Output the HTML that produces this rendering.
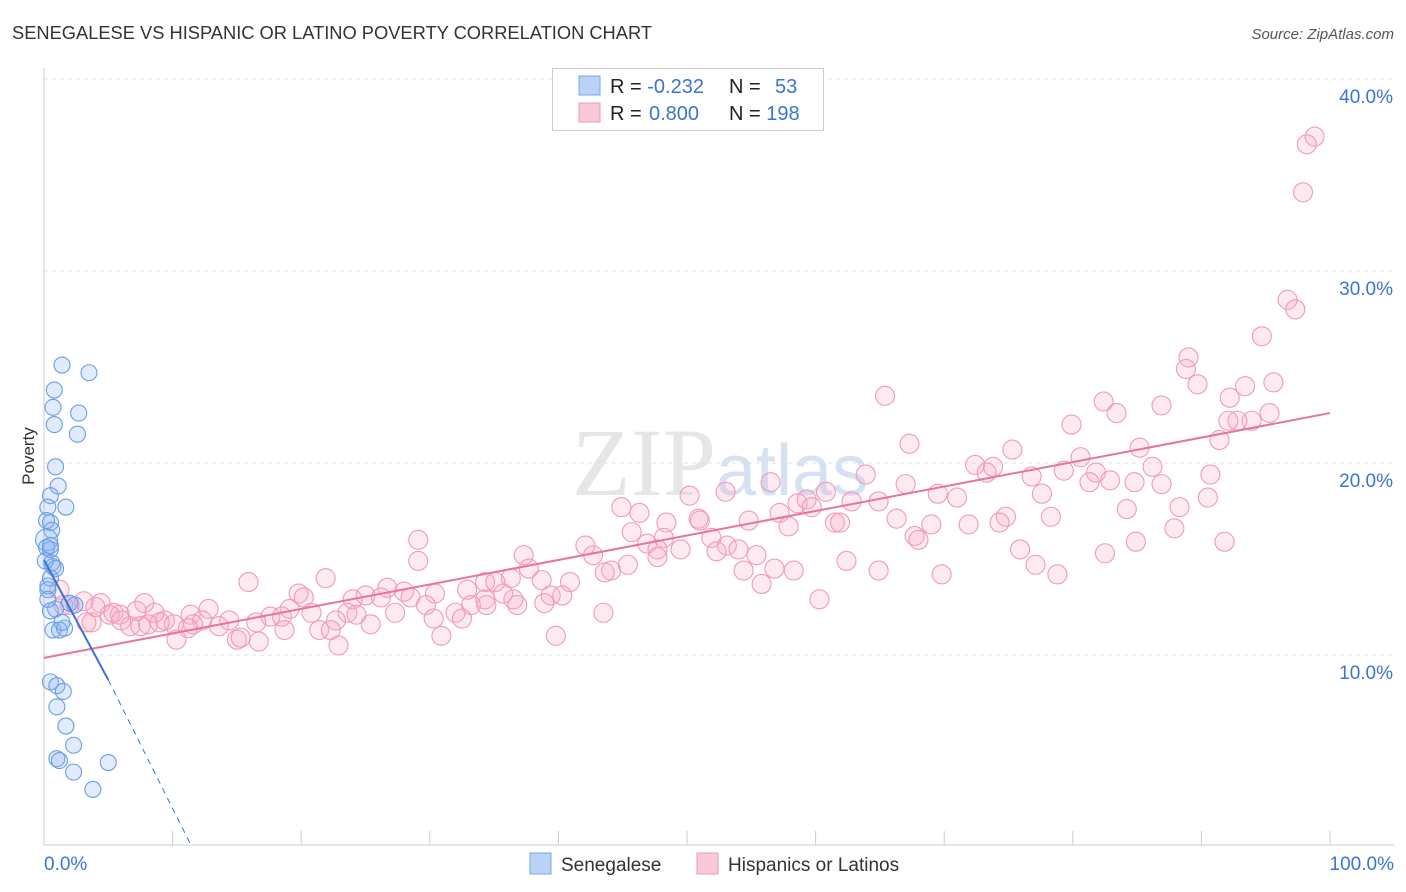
<!DOCTYPE html>
<html><head><meta charset="utf-8">
<style>
body{margin:0;background:#fff;font-family:"Liberation Sans",sans-serif;}
svg{display:block}
</style></head>
<body>
<svg id="chart" width="1406" height="892">
<text x="12" y="39" font-size="18.3" fill="#333">SENEGALESE VS HISPANIC OR LATINO POVERTY CORRELATION CHART</text>
<text x="1394" y="39" font-size="15" fill="#555" text-anchor="end" font-style="italic">Source: ZipAtlas.com</text>
<text x="34" y="456" font-size="17" fill="#333" transform="rotate(-90 34 456)" text-anchor="middle">Poverty</text>
<text x="720" y="495" font-size="96" fill="#e6e6e6" text-anchor="middle" font-family="Liberation Serif,serif">ZIP<tspan fill="#d5e2f3" font-family="Liberation Sans,sans-serif" font-size="72">atlas</tspan></text>
<g id="grid"></g><g id="axes"></g><g id="pink"></g><g id="blue"></g><g id="trend"></g>
<g>
<rect x="552.5" y="68.5" width="271" height="62" fill="#fff" stroke="#ccc"/>
<rect x="579" y="76" width="21" height="19" fill="#b9d3f5" stroke="#7aa7e6"/>
<rect x="579" y="103" width="21" height="19" fill="#f9c9d8" stroke="#ec9ab5"/>
<text x="610" y="93" font-size="20" fill="#222">R = <tspan fill="#3b73d6">-0.232</tspan></text>
<text x="729" y="93" font-size="20" fill="#222">N = <tspan fill="#3b73d6" x="775">53</tspan></text>
<text x="610" y="120" font-size="20" fill="#222">R = <tspan fill="#3b73d6" x="649">0.800</tspan></text>
<text x="729" y="120" font-size="20" fill="#222">N = <tspan fill="#3b73d6">198</tspan></text>
</g>
<g>
<rect x="530" y="853" width="21" height="21" fill="#b9d3f5" stroke="#7aa7e6"/>
<text x="561" y="871" font-size="19" fill="#333">Senegalese</text>
<rect x="697" y="853" width="21" height="21" fill="#f9c9d8" stroke="#ec9ab5"/>
<text x="728" y="871" font-size="19" fill="#333">Hispanics or Latinos</text>
</g>
</svg>
<script>
const yTicks=[10,20,30,40];
const yTickLabels=["10.0%","20.0%","30.0%","40.0%"];
const xTickLabels=["0.0%","100.0%"];
const pinkX=[98.8,98.2,97.9,96.7,97.3,94.7,89.0,88.8,89.7,95.6,93.4,92.2,86.9,82.4,83.4,65.4,95.3,93.9,92.8,92.1,79.9,67.3,91.4,85.2,75.3,80.6,72.4,73.8,86.2,79.3,81.8,90.7,76.8,82.9,73.3,84.8,86.9,63.9,56.5,81.3,67.0,77.6,90.5,50.2,53.0,60.8,69.5,71.0,58.6,59.3,64.9,62.8,88.3,84.2,44.9,46.3,59.7,78.3,50.9,48.4,57.2,66.3,51.0,54.8,71.9,57.9,61.5,61.9,74.8,74.3,69.0,87.9,45.7,51.9,48.2,42.1,46.9,67.7,68.0,84.9,91.8,29.1,53.1,47.7,54.0,49.5,75.9,82.5,37.3,52.3,42.7,55.4,62.4,47.7,56.8,37.7,77.1,64.9,29.1,44.1,45.4,54.4,43.6,58.3,78.8,69.8,15.9,21.9,34.3,36.3,35.1,38.7,40.9,55.8,26.7,19.8,20.2,28.0,25.0,26.2,30.4,32.9,35.7,60.3,39.4,36.5,28.5,34.3,24.0,40.3,12.8,19.1,33.2,38.9,29.7,34.4,36.8,43.5,23.6,27.3,24.3,20.8,17.6,18.5,32.0,32.5,30.3,14.4,9.4,11.4,12.3,16.5,7.8,3.1,4.4,5.4,5.9,7.2,8.6,3.7,10.1,11.6,13.6,22.7,25.4,3.3,6.7,7.5,11.2,10.3,15.0,16.7,18.7,21.4,22.3,30.9,39.8,15.3,22.9,1.2,1.5,2.0,4.0,5.1,6.0,8.1,9.0];
const pinkY=[37.0,36.6,34.1,28.5,28.0,26.6,25.5,24.9,24.1,24.2,24.0,23.4,23.0,23.2,22.6,23.5,22.6,22.2,22.2,22.2,22.0,21.0,21.2,20.8,20.7,20.3,19.9,19.8,19.8,19.6,19.5,19.4,19.3,19.1,19.5,19.0,18.9,19.4,19.0,19.0,18.9,18.4,18.2,18.3,18.5,18.5,18.4,18.2,17.9,18.1,18.0,18.0,17.7,17.6,17.7,17.4,17.7,17.2,17.1,16.9,17.4,17.1,17.0,17.0,16.8,16.7,16.9,16.9,17.2,16.9,16.8,16.6,16.4,16.1,16.1,15.7,15.8,16.2,16.0,15.9,15.9,16.0,15.7,15.5,15.5,15.5,15.5,15.3,15.2,15.4,15.2,15.2,14.9,15.1,14.5,14.5,14.7,14.4,14.9,14.4,14.7,14.4,14.3,14.4,14.2,14.2,13.8,14.0,13.8,14.0,13.8,13.9,13.8,13.7,13.5,13.2,13.0,13.3,13.1,13.0,13.2,13.4,13.2,12.9,13.1,12.9,13.0,12.9,12.9,13.1,12.4,12.4,12.6,12.7,12.6,12.6,12.6,12.2,12.2,12.2,12.1,12.2,12.0,12.0,12.2,11.9,11.9,11.8,11.8,12.1,11.8,11.7,12.7,12.8,12.7,12.2,12.1,12.3,12.2,11.7,11.6,11.6,11.5,11.8,11.6,11.7,11.5,11.5,11.4,10.8,10.8,10.7,11.3,11.3,11.3,11.0,11.0,10.9,10.5,13.4,12.6,12.6,12.5,12.1,11.8,11.6,11.7];
const blueX=[1.4,3.5,0.8,0.7,2.7,0.8,2.6,0.9,1.1,0.5,0.3,1.7,0.5,0.6,0.2,0.5,0.6,0.7,0.5,0.3,0.9,0.5,0.9,0.7,1.2,1.6,1.4,0.3,0.2,0.1,0.2,0.5,0.3,2.0,2.4,0.5,1.0,1.5,1.0,1.7,2.3,1.0,2.3,5.0,3.8,1.2];
const blueY=[25.1,24.7,23.8,22.9,22.6,22.0,21.5,19.8,18.8,18.3,17.7,17.7,16.9,16.5,16.0,15.5,14.8,14.6,14.0,13.4,14.5,12.3,12.4,11.3,11.3,11.4,11.7,13.6,15.6,14.9,17.0,15.7,12.9,12.7,12.6,8.6,8.4,8.1,7.3,6.3,5.3,4.6,3.9,4.4,3.0,4.5];
const pinkTrend=[9.85,22.6];
const blueTrend=[14.95,8.7,0];

const NS="http://www.w3.org/2000/svg";
const X0=44,X1=1330,YB=847,PY=19.2;
const xs=v=>X0+v*(X1-X0)/100;
const ys=v=>YB-v*PY;
function mk(tag,attrs,parent){const e=document.createElementNS(NS,tag);for(const k in attrs)e.setAttribute(k,attrs[k]);document.getElementById(parent).appendChild(e);return e;}
yTicks.forEach((t,i)=>{
  const l=mk('line',{x1:X0,x2:1394,y1:ys(t),y2:ys(t),stroke:'#e0e0e0','stroke-dasharray':'4 4'},'grid');
  
  
  const tx=mk('text',{x:1393,y:ys(t)+24,'font-size':19,fill:'#3b73d6','text-anchor':'end'},'grid');
  tx.textContent=yTickLabels[i];
  
  
});
const ax=mk('line',{x1:X0,x2:X0,y1:68,y2:YB-2,stroke:'#ccc'},'axes');


const bx=mk('line',{x1:X0,x2:1394,y1:845,y2:845,stroke:'#ccc'},'axes');


for(let i=1;i<=10;i++){
  const t=mk('line',{x1:xs(i*10),x2:xs(i*10),y1:831,y2:845,stroke:'#ccc'},'axes');
  
  
}
[[0,'start',44],[100,'end',1394]].forEach((p,i)=>{
  const t=mk('text',{x:p[2],y:870,'font-size':19,fill:'#3b73d6','text-anchor':p[1]},'axes');
  t.textContent=xTickLabels[i];
  
  
});
pinkX.forEach((x,i)=>{
  const c=mk('circle',{cx:xs(x),cy:ys(pinkY[i]),r:9.5,fill:'rgba(247,170,196,0.25)',stroke:'#f09ab8','stroke-width':1.1},'pink');
  
  
});
blueX.forEach((x,i)=>{
  const c=mk('circle',{cx:xs(x),cy:ys(blueY[i]),r:i==14?11:8,fill:'rgba(130,175,240,0.25)',stroke:'#6c9ee3','stroke-width':1.1},'blue');
  
  
});
const pl=mk('line',{x1:xs(0),y1:ys(pinkTrend[0]),x2:xs(100),y2:ys(pinkTrend[1]),stroke:'#e8739c','stroke-width':2},'trend');


const bl=mk('line',{x1:xs(0),y1:ys(blueTrend[0]),x2:xs(5),y2:ys(blueTrend[1]),stroke:'#3a72d8','stroke-width':2},'trend');


const bd=mk('line',{x1:xs(5),y1:ys(blueTrend[1]),x2:xs(11.5),y2:ys(blueTrend[2]),stroke:'#3a72d8','stroke-width':1,'stroke-dasharray':'6 5'},'trend');


</script>
</body></html>
